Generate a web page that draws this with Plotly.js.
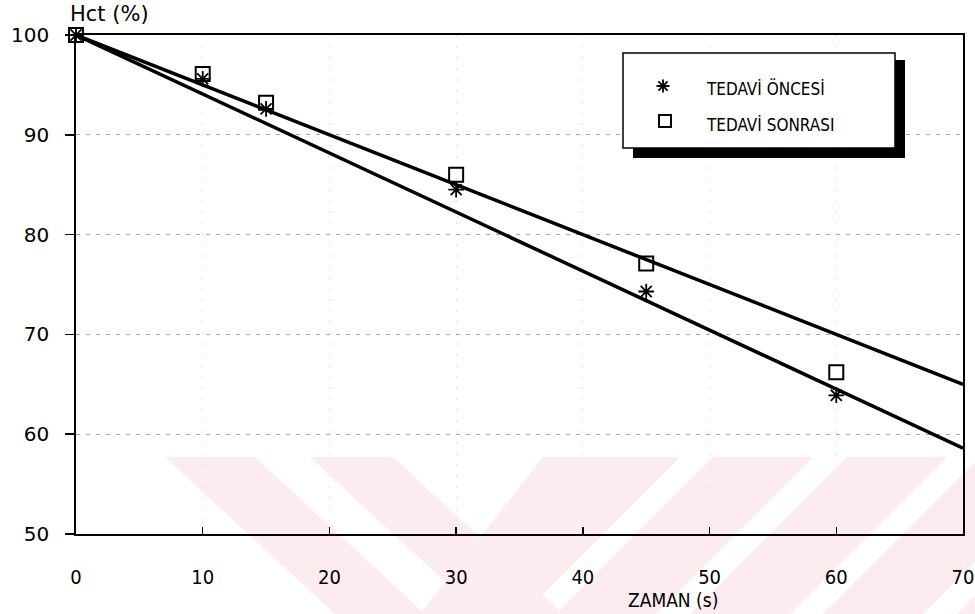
<!DOCTYPE html>
<html><head><meta charset="utf-8">
<script src="https://cdn.plot.ly/plotly-3.0.1.min.js"></script>
<style>html,body{margin:0;padding:0;background:#fff}</style>
</head><body><div id="chart" style="width:975px;height:614px"></div>
<script>
// ---- data ----
const zaman = [0, 10, 15, 30, 45, 60];
const tedaviOncesi = [100, 95.6, 92.6, 84.5, 74.3, 63.9];
const tedaviSonrasi = [100, 96.1, 93.2, 86.0, 77.1, 66.2];
const fitX = [0, 70];
const fitOncesi = [100, 58.6];
const fitSonrasi = [100, 65.0];
const xTicks = [0, 10, 20, 30, 40, 50, 60, 70];
const yTicks = [50, 60, 70, 80, 90, 100];
const legendLabels = ['TEDAVİ ÖNCESİ', 'TEDAVİ SONRASI'];
const yTitle = 'Hct (%)';
const xTitle = 'ZAMAN (s)';

// ---- layout helpers (pixel -> paper) ----
const L = 76, R = 12, T = 35, B = 80, FW = 975, FH = 614;
const W = FW - L - R, H = FH - T - B;
const px = v => (v - L) / W;
const py = v => 1 - (v - T) / H;

const traces = [
  {x: fitX, y: fitOncesi, mode: 'lines', line: {color: '#000', width: 3.5}, showlegend: false, hoverinfo: 'skip'},
  {x: fitX, y: fitSonrasi, mode: 'lines', line: {color: '#000', width: 3.5}, showlegend: false, hoverinfo: 'skip'},
  {x: zaman, y: tedaviOncesi, name: legendLabels[0], mode: 'markers', cliponaxis: false,
   marker: {symbol: 'asterisk-open', size: 13, color: '#000', line: {color: '#000', width: 1.8}}},
  {x: zaman, y: tedaviSonrasi, name: legendLabels[1], mode: 'markers', cliponaxis: false,
   marker: {symbol: 'square-open', size: 14, color: '#000', line: {color: '#000', width: 2}}}
];

// watermark stripes (pink, decorative)
const pink = '#fdecef';
function poly(pts) {
  return {type: 'path', xref: 'paper', yref: 'paper', layer: 'below', fillcolor: pink, line: {width: 0},
    path: 'M ' + pts.map(p => px(p[0]) + ',' + py(p[1])).join(' L ') + ' Z'};
}
const wmTop = 457, wmBot = 614;
// legend asterisk glyph drawn as four crossing strokes
const ac = [663, 86], ar = 6.5, ad = 4.6;
const asteriskPath = [
  [[ac[0] - ar, ac[1]], [ac[0] + ar, ac[1]]],
  [[ac[0], ac[1] - ar], [ac[0], ac[1] + ar]],
  [[ac[0] - ad, ac[1] - ad], [ac[0] + ad, ac[1] + ad]],
  [[ac[0] - ad, ac[1] + ad], [ac[0] + ad, ac[1] - ad]]
].map(s => 'M ' + px(s[0][0]) + ',' + py(s[0][1]) + ' L ' + px(s[1][0]) + ',' + py(s[1][1])).join(' ');

const shapes = [
  poly([[165, wmTop], [255, wmTop], [425, wmBot], [335, wmBot]]),
  poly([[310, wmTop], [393, wmTop], [563, wmBot], [480, wmBot]]),
  poly([[543, wmTop], [680, wmTop], [523, wmBot], [420, wmBot]]),
  poly([[713, wmTop], [813, wmTop], [656, wmBot], [556, wmBot]]),
  poly([[847, wmTop], [947, wmTop], [790, wmBot], [690, wmBot]]),
  poly([[980, wmTop], [1080, wmTop], [923, wmBot], [823, wmBot]]),
  poly([[1113, wmTop], [1213, wmTop], [1056, wmBot], [957, wmBot]]),
  // legend shadow + box
  {type: 'rect', xref: 'paper', yref: 'paper', layer: 'above', x0: px(633), x1: px(905), y0: py(60), y1: py(158),
   fillcolor: '#000', line: {width: 0}},
  {type: 'rect', xref: 'paper', yref: 'paper', layer: 'above', x0: px(623), x1: px(895), y0: py(53), y1: py(148),
   fillcolor: '#fff', line: {color: '#000', width: 1.5}},
  {type: 'path', xref: 'paper', yref: 'paper', layer: 'above', path: asteriskPath, line: {color: '#000', width: 1.8}},
  {type: 'rect', xref: 'paper', yref: 'paper', layer: 'above', x0: px(659), x1: px(671), y0: py(115), y1: py(127),
   line: {color: '#000', width: 2}}
];

const annotations = [
  {text: yTitle, xref: 'paper', yref: 'paper', x: px(68), y: py(28), xanchor: 'left', yanchor: 'bottom',
   showarrow: false, font: {family: 'DejaVu Sans', size: 21, color: '#000'}},
  {text: xTitle, xref: 'paper', yref: 'paper', x: px(673), y: py(600), xanchor: 'center', yanchor: 'middle',
   showarrow: false, font: {family: 'DejaVu Sans Condensed, DejaVu Sans', size: 19, color: '#000'}},
  {text: legendLabels[0], xref: 'paper', yref: 'paper', x: px(704), y: py(88), xanchor: 'left', yanchor: 'middle',
   showarrow: false, font: {family: 'DejaVu Sans Condensed, DejaVu Sans', size: 17, color: '#000'}},
  {text: legendLabels[1], xref: 'paper', yref: 'paper', x: px(704), y: py(125), xanchor: 'left', yanchor: 'middle',
   showarrow: false, font: {family: 'DejaVu Sans Condensed, DejaVu Sans', size: 17, color: '#000'}}
];

const layout = {
  width: FW, height: FH,
  margin: {l: L, r: R, t: T, b: B, pad: 0},
  paper_bgcolor: '#fff', plot_bgcolor: 'rgba(0,0,0,0)',
  showlegend: false,
  xaxis: {range: [0, 70], tickvals: xTicks, ticktext: xTicks.map(String),
    showline: true, mirror: true, linecolor: '#000', linewidth: 1.8,
    ticks: 'inside', ticklen: 7, tickwidth: 1.5, tickcolor: '#000',
    ticklabelstandoff: 24,
    showgrid: true, gridcolor: '#e6e6e6', griddash: '2px,9px', gridwidth: 1,
    zeroline: false,
    tickfont: {family: 'DejaVu Sans Condensed, DejaVu Sans', size: 20, color: '#000'}},
  yaxis: {range: [50, 100], tickvals: yTicks, ticktext: yTicks.map(String),
    showline: true, mirror: true, linecolor: '#000', linewidth: 1.8,
    ticks: 'outside', ticklen: 9, tickwidth: 1.5, tickcolor: '#000',
    ticklabelstandoff: 12,
    showgrid: true, gridcolor: '#a6a6a6', griddash: '4px,6px', gridwidth: 1,
    zeroline: false,
    tickfont: {family: 'DejaVu Sans', size: 20, color: '#000'}},
  shapes: shapes,
  annotations: annotations
};

Plotly.newPlot('chart', traces, layout, {displayModeBar: false, staticPlot: true});
</script>
</body></html>
